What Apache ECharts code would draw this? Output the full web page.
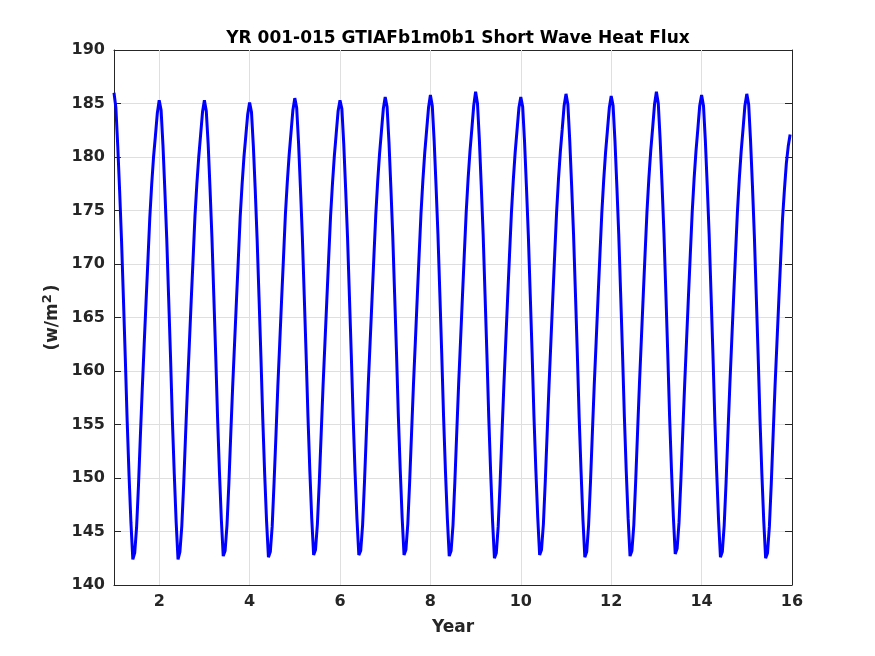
<!DOCTYPE html>
<html>
<head>
<meta charset="utf-8">
<script src="https://cdn.jsdelivr.net/npm/echarts@6/dist/echarts.min.js"></script>
<style>
html,body{margin:0;padding:0;background:#fff;}
#chart{width:875px;height:656px;}
</style>
</head>
<body>
<div id="chart"></div>
<script>
// Samples per year (semi-monthly), years 1..15
const startYear = 1;
const samplesPerYear = 24;
const year01 = [186.0,184.6,181.0,176.8,172.2,166.8,161.2,155.3,150.2,145.8,142.4,143.0,145.4,149.3,153.9,158.3,162.4,166.4,170.3,174.3,177.4,180.0,182.0,184.1];
const year02 = [185.3,184.4,181.1,176.9,172.4,166.9,161.4,155.4,150.4,145.9,142.4,143.1,145.5,149.4,154.0,158.4,162.5,166.6,170.5,174.5,177.5,180.0,182.1,184.2];
const year03 = [185.3,184.3,181.2,177.0,172.5,167.0,161.5,155.6,150.5,146.1,142.7,143.2,145.6,149.5,154.1,158.5,162.5,166.5,170.4,174.4,177.4,180.0,182.0,184.0];
const year04 = [185.1,184.2,181.0,176.9,172.3,166.9,161.4,155.5,150.4,146.0,142.6,143.1,145.5,149.6,154.0,158.6,162.6,166.7,170.6,174.6,177.6,180.2,182.3,184.4];
const year05 = [185.5,184.6,181.3,177.1,172.6,167.1,161.6,155.7,150.6,146.2,142.8,143.3,145.7,149.6,154.1,158.6,162.6,166.6,170.6,174.5,177.5,180.1,182.2,184.3];
const year06 = [185.3,184.5,181.2,177.0,172.5,167.0,161.5,155.6,150.5,146.2,142.8,143.2,145.6,149.6,154.2,158.7,162.7,166.7,170.7,174.6,177.7,180.3,182.4,184.5];
const year07 = [185.6,184.7,181.4,177.2,172.7,167.2,161.7,155.7,150.7,146.3,142.8,143.3,145.7,149.7,154.2,158.7,162.7,166.8,170.8,174.7,177.8,180.4,182.5,184.6];
const year08 = [185.8,184.8,181.5,177.3,172.8,167.3,161.7,155.7,150.6,146.2,142.7,143.2,145.6,149.7,154.3,158.8,162.8,166.9,170.9,174.8,177.9,180.5,182.6,184.8];
const year09 = [186.1,185.0,181.6,177.3,172.8,167.2,161.6,155.6,150.5,146.0,142.5,143.0,145.5,149.5,154.1,158.6,162.7,166.8,170.8,174.7,177.8,180.4,182.5,184.6];
const year10 = [185.6,184.7,181.4,177.2,172.7,167.2,161.7,155.7,150.7,146.3,142.8,143.3,145.7,149.7,154.2,158.7,162.8,166.9,170.9,174.8,177.9,180.5,182.6,184.8];
const year11 = [185.9,184.9,181.5,177.3,172.8,167.3,161.7,155.6,150.6,146.1,142.6,143.1,145.6,149.6,154.2,158.7,162.7,166.8,170.8,174.7,177.8,180.4,182.5,184.6];
const year12 = [185.7,184.8,181.5,177.3,172.8,167.3,161.7,155.7,150.6,146.2,142.7,143.2,145.6,149.7,154.3,158.8,162.9,167.0,171.0,174.9,178.0,180.6,182.7,184.9];
const year13 = [186.1,185.0,181.6,177.4,172.9,167.4,161.8,155.8,150.8,146.4,142.9,143.4,145.8,149.8,154.3,158.7,162.8,166.9,170.9,174.8,177.9,180.5,182.6,184.8];
const year14 = [185.8,184.8,181.5,177.3,172.8,167.3,161.7,155.6,150.6,146.1,142.6,143.1,145.6,149.6,154.2,158.7,162.8,166.9,170.9,174.8,177.9,180.5,182.6,184.8];
const year15 = [185.9,184.9,181.5,177.3,172.7,167.2,161.6,155.5,150.4,146.0,142.5,143.0,145.5,149.5,154.1,158.6,162.6,166.6,170.5,174.3,177.0,179.4,181.0,182.1];
const years = [year01,year02,year03,year04,year05,year06,year07,year08,year09,year10,year11,year12,year13,year14,year15];

const xTicks = [2,4,6,8,10,12,14,16];
const yTicks = [140,145,150,155,160,165,170,175,180,185,190];

const seriesData = [];
years.forEach((arr, yi) => {
  arr.forEach((v, k) => {
    seriesData.push([startYear + yi + k / samplesPerYear, v]);
  });
});

const chart = echarts.init(document.getElementById('chart'), null, {renderer: 'canvas'});
const axisTextColor = '#262626';
const fontFam = 'DejaVu Sans';
const gridColor = '#dfdfdf';

const option = {
  backgroundColor: '#ffffff',
  animation: false,
  title: {
    text: 'YR 001-015 GTIAFb1m0b1 Short Wave Heat Flux',
    left: 453,
    top: 25,
    textAlign: 'center',
    textStyle: {fontFamily: fontFam, fontWeight: 'bold', fontSize: 17, color: '#000'}
  },
  grid: {left: 114, right: 83, top: 50, bottom: 71, containLabel: false},
  xAxis: [{
    type: 'value', min: 1, max: 16, interval: 1,
    name: 'Year', nameLocation: 'middle', nameGap: 34,
    nameTextStyle: {fontFamily: fontFam, fontWeight: 'bold', fontSize: 17, color: axisTextColor},
    axisLine: {show: true, onZero: false, lineStyle: {color: axisTextColor, width: 1}},
    axisTick: {show: true, inside: true, length: 7, customValues: xTicks, lineStyle: {color: axisTextColor}},
    axisLabel: {customValues: xTicks, fontFamily: fontFam, fontWeight: 'bold', fontSize: 16, color: axisTextColor, margin: 9},
    splitLine: {show: false}
  }, {
    type: 'value', min: 1, max: 16, interval: 1, position: 'top',
    axisLine: {show: true, onZero: false, lineStyle: {color: axisTextColor, width: 1}},
    axisTick: {show: true, inside: true, length: 7, customValues: xTicks, lineStyle: {color: axisTextColor}},
    axisLabel: {show: false},
    splitLine: {show: false}
  }],
  yAxis: [{
    type: 'value', min: 140, max: 190, interval: 5,
    name: '{a|(w/m}{s|2}{a|)}', nameLocation: 'middle', nameGap: 50, nameRotate: 90,
    nameTextStyle: {
      fontFamily: fontFam, fontWeight: 'bold', fontSize: 17, color: axisTextColor,
      rich: {
        a: {fontFamily: fontFam, fontWeight: 'bold', fontSize: 17, color: axisTextColor, lineHeight: 20, verticalAlign: 'bottom'},
        s: {fontFamily: fontFam, fontWeight: 'bold', fontSize: 13, color: axisTextColor, lineHeight: 20, verticalAlign: 'top', padding: [0, 2, 0, 0]}
      }
    },
    axisLine: {show: true, onZero: false, lineStyle: {color: axisTextColor, width: 1}},
    axisTick: {show: true, inside: true, length: 7, lineStyle: {color: axisTextColor}},
    axisLabel: {fontFamily: fontFam, fontWeight: 'bold', fontSize: 16, color: axisTextColor, margin: 9},
    splitLine: {show: true, lineStyle: {color: gridColor, width: 1}}
  }, {
    type: 'value', min: 140, max: 190, interval: 5, position: 'right',
    axisLine: {show: true, onZero: false, lineStyle: {color: axisTextColor, width: 1}},
    axisTick: {show: true, inside: true, length: 7, lineStyle: {color: axisTextColor}},
    axisLabel: {show: false},
    splitLine: {show: false}
  }],
  series: [{
    type: 'line',
    data: seriesData,
    xAxisIndex: 0, yAxisIndex: 0,
    showSymbol: false,
    lineStyle: {color: '#0000ff', width: 3},
    z: 5,
    markLine: {
      silent: true, symbol: 'none', label: {show: false},
      lineStyle: {color: gridColor, width: 1, type: 'solid'},
      data: xTicks.filter(v => v < 16).map(v => ({xAxis: v})),
      z: 1
    }
  }]
};
chart.setOption(option);
</script>
</body>
</html>
